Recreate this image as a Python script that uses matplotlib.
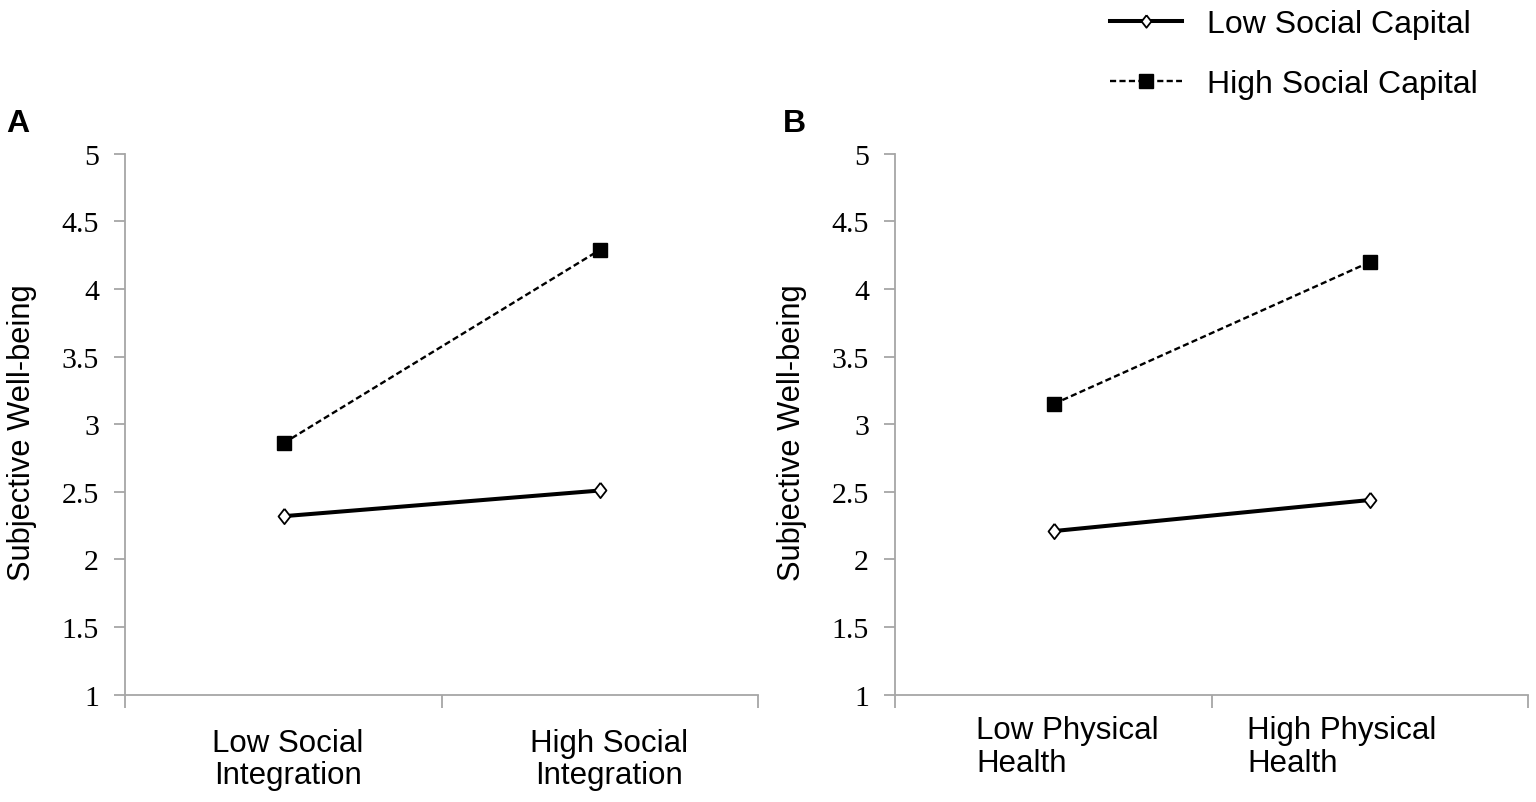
import matplotlib
matplotlib.use("Agg")
import matplotlib.pyplot as plt
from matplotlib.lines import Line2D

# ---- data ----
cats_a = ["Low Social\nIntegration", "High Social\nIntegration"]
cats_b = ["Low Physical\nHealth", "High Physical\nHealth"]
low_cap_a = [2.32, 2.51]
high_cap_a = [2.86, 4.29]
low_cap_b = [2.21, 2.44]
high_cap_b = [3.15, 4.20]
yticks = [1, 1.5, 2, 2.5, 3, 3.5, 4, 4.5, 5]
ytick_labels = ["1", "1.5", "2", "2.5", "3", "3.5", "4", "4.5", "5"]

AX_GRAY = "#a6a6a6"
SERIF = "Liberation Serif"
SANS = "Liberation Sans"
DIAMOND = [(0, 1), (0.78, 0), (0, -1), (-0.78, 0), (0, 1)]   # slightly narrow open diamond
SOLID = dict(color="black", lw=2.9, marker=DIAMOND, ms=11, mfc="white", mec="black", mew=1.3)
DASHED = dict(color="black", lw=1.7, ls=(0, (2.6, 1.4)), marker="s", ms=10.5, mfc="black", mec="black")

fig = plt.figure(figsize=(15.36, 8.03), dpi=100)
ax_a = fig.add_axes([0.0816, 0.1336, 0.4121, 0.6737])
ax_b = fig.add_axes([0.5830, 0.1336, 0.4121, 0.6737])


def panel(ax, cats, low, high, letter, letter_x, lab_dx, lab_dy, align):
    x = list(range(len(cats)))
    ax.plot(x, low, zorder=3, **SOLID)
    ax.plot(x, high, zorder=3, **DASHED)
    ax.set_xlim(-0.5, 1.5)
    ax.set_ylim(1, 5)
    for s in ("top", "right"):
        ax.spines[s].set_visible(False)
    for s in ("left", "bottom"):
        ax.spines[s].set_color(AX_GRAY)
        ax.spines[s].set_linewidth(1.3)
    ax.set_yticks(yticks)
    ax.set_yticklabels(ytick_labels, family=SERIF, fontsize=21.5)
    ax.tick_params(axis="y", length=8, width=1.3, color=AX_GRAY, pad=11)
    # tick marks sit on the category boundaries
    ax.set_xticks([-0.5, 0.5, 1.5])
    ax.set_xticklabels(["", "", ""])
    ax.tick_params(axis="x", length=9, width=1.3, color=AX_GRAY)
    # category text boxes, placed under each category as in the original
    for i, c in enumerate(cats):
        ax.annotate(c, xy=(i, 0), xycoords=("data", "axes fraction"),
                    xytext=(lab_dx[i], lab_dy), textcoords="offset points",
                    ha="center", va="top", multialignment=align,
                    family=SANS, fontsize=22.5, linespacing=1.12)
    ax.set_ylabel("Subjective Well-being", family=SANS, fontsize=22.2)
    ax.yaxis.set_label_coords(-0.14, 0.487)
    ax.text(letter_x, 1.056, letter, transform=ax.transAxes, family=SANS,
            fontsize=23, fontweight="bold", ha="left", va="center")


panel(ax_a, cats_a, low_cap_a, high_cap_a, "A", -0.188, [3, 6.5], -23.7, "center")
panel(ax_b, cats_b, low_cap_b, high_cap_b, "B", -0.178, [9.7, -20.5], -14.5, "left")

handles = [
    Line2D([], [], **dict(SOLID, ms=9)),
    Line2D([], [], **dict(DASHED, ms=10)),
]
fig.legend(handles, ["Low Social Capital", "High Social Capital"], loc="upper left",
           bbox_to_anchor=(0.704, 1.023), frameon=False, handlelength=2.25,
           handletextpad=0.78, labelspacing=0.93, prop={"family": SANS, "size": 23})

fig.savefig("out.png", dpi=100, facecolor="white")
